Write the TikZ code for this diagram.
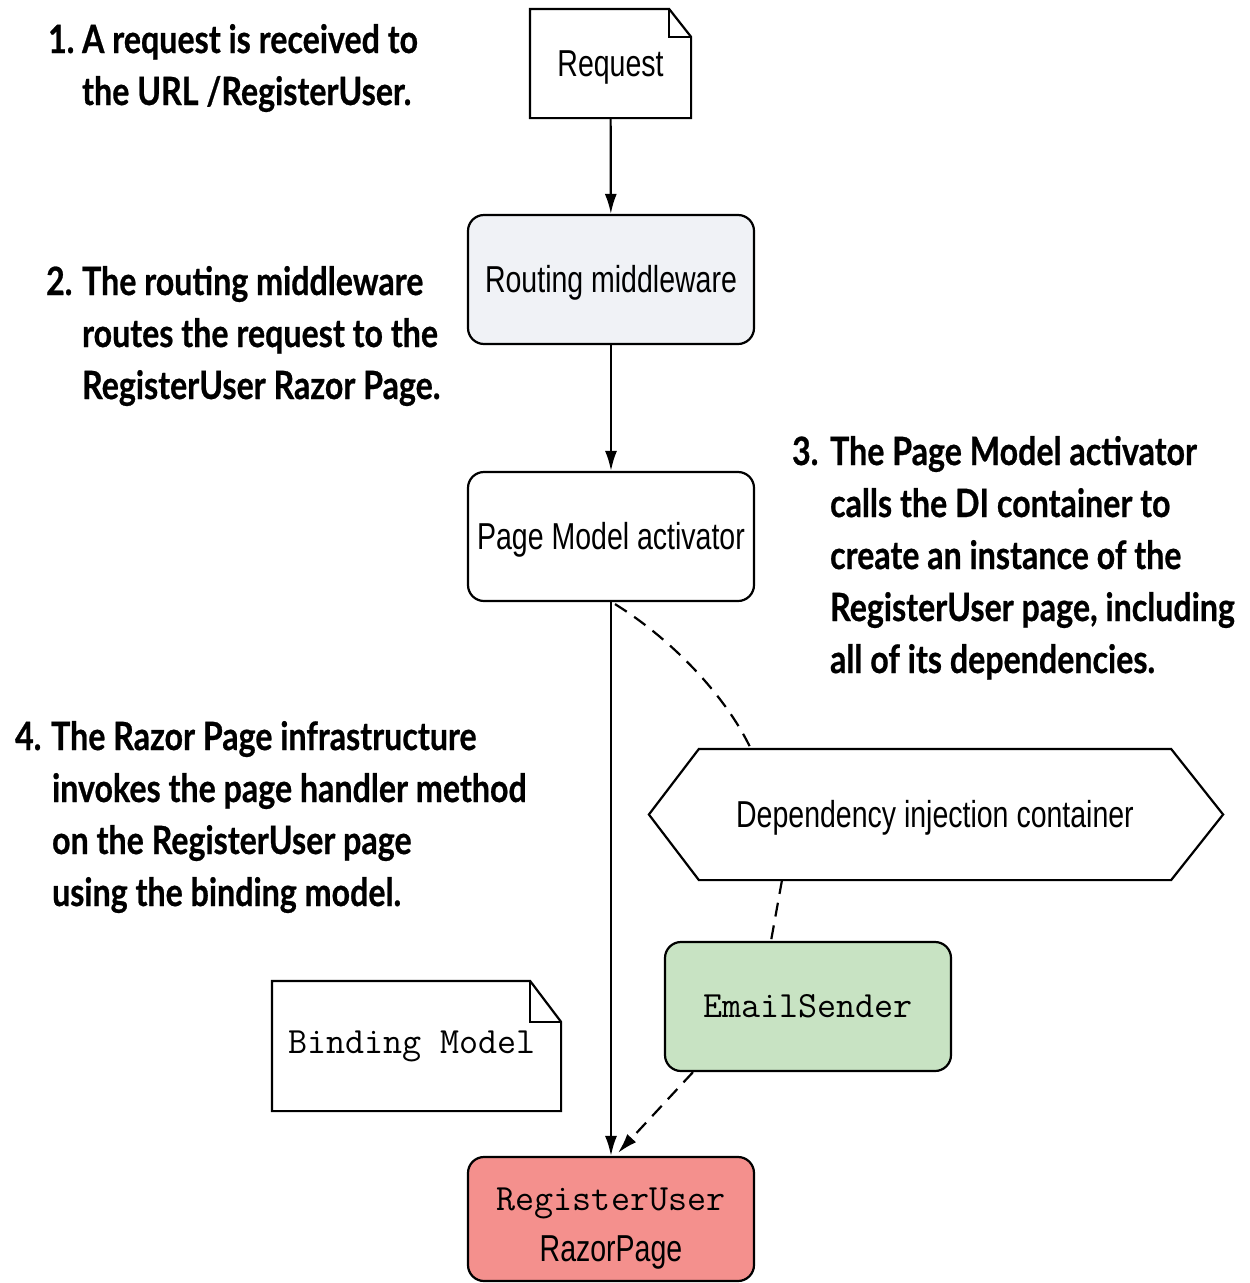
\documentclass[tikz,border=0pt]{standalone}
\usepackage{fontspec}
\usetikzlibrary{arrows.meta,calc}
\newfontfamily\annfont[FakeStretch=0.825,FakeBold=0.6]{Lato}
\newfontfamily\boxsans[FakeStretch=0.76]{Liberation Sans}
\definecolor{routfill}{RGB}{240,242,246}
\definecolor{emailfill}{RGB}{200,227,195}
\definecolor{regfill}{RGB}{244,144,141}
\begin{document}
\begin{tikzpicture}[x=1pt,y=-1pt,line width=2.2pt,
  plain/.style={inner sep=0pt,minimum width=286pt,minimum height=129pt,font=\boxsans\fontsize{37.5}{45}\selectfont},
  ctr/.style={text height=25pt,text depth=0pt},
  box/.style={plain,draw,rounded corners=16pt},
  mono/.style={font=\ttfamily\fontsize{37}{45}\selectfont},
  ann/.style={anchor=base west,inner sep=0pt,font=\annfont\bfseries\fontsize{39}{52}\selectfont},
  arr/.style={-{Latex[length=20pt,width=12pt]}},
  dsh/.style={dash pattern=on 14pt off 9pt}]
\useasboundingbox (0,0) rectangle (1250,1283);

% annotations
\node[ann] (a1n) at (47,53) {1.};
\node[ann] (a1a) at (81,53) {A request is received to};
\node[ann] (a1b) at (81,105) {the URL /RegisterUser.};

\node[ann] (a2n) at (45,295) {2.};
\node[ann] (a2a) at (81,295) {The routing middleware};
\node[ann] (a2b) at (81,347) {routes the request to the};
\node[ann] (a2c) at (81,399) {RegisterUser Razor Page.};

\node[ann] (a3n) at (791,465) {3.};
\node[ann] (a3a) at (829,465) {The Page Model activator};
\node[ann] (a3b) at (829,517) {calls the DI container to};
\node[ann] (a3c) at (829,569) {create an instance of the};
\node[ann] (a3d) at (829,621) {RegisterUser page, including};
\node[ann] (a3e) at (829,673) {all of its dependencies.};

\node[ann] (a4n) at (14,750) {4.};
\node[ann] (a4a) at (50,750) {The Razor Page infrastructure};
\node[ann] (a4b) at (51,802) {invokes the page handler method};
\node[ann] (a4c) at (51,854) {on the RegisterUser page};
\node[ann] (a4d) at (51,906) {using the binding model.};

% request document
\node[plain,ctr,minimum width=159pt,minimum height=107pt] (req) at (610.5,63.5) {Request};
\draw[line join=miter] (req.north west) -- ($(req.north east)+(-22,0)$) -- ($(req.north east)+(0,28)$)
  -- (req.south east) -- (req.south west) -- cycle;
\draw ($(req.north east)+(-22,0)$) -- ($(req.north east)+(-22,28)$) -- ($(req.north east)+(0,28)$);

% boxes
\node[box,ctr,fill=routfill] (rout) at (611,279.5) {Routing middleware};
\node[box,ctr,fill=white] (pma) at (611,536.5) {Page Model activator};

% DI container hexagon
\node[plain,ctr,minimum width=470pt] (di) at (935,814.5) {Dependency injection container};
\draw (di.north west) -- (di.north east) -- ($(di.east)+(52,0)$) -- (di.south east)
  -- (di.south west) -- ($(di.west)+(-50,0)$) -- cycle;

\node[box,fill=emailfill,mono] (email) at (808,1006.5) {EmailSender};

% binding model document
\node[plain,mono,minimum width=287pt,minimum height=128pt] (bind) at (416.5,1046) {Binding Model\hspace*{9pt}};
\draw (bind.north west) -- ($(bind.north east)+(-31,0)$) -- ($(bind.north east)+(0,41)$)
  -- (bind.south east) -- (bind.south west) -- cycle;
\draw ($(bind.north east)+(-31,0)$) -- ($(bind.north east)+(-31,41)$) -- ($(bind.north east)+(0,41)$);

\node[box,fill=regfill,minimum height=124pt,align=center] (reg) at (611,1219)
  {\rule{0pt}{42pt}{\ttfamily\fontsize{37}{51}\selectfont RegisterUser}\\[6pt]RazorPage};

% connectors
\draw[arr] (req) -- (rout);
\draw[arr] (rout) -- (pma);
\draw[arr] (pma) -- (reg);
\draw[dsh] ($(pma.south)+(4,2)$) .. controls (676,642) and (728,700) .. ($(di.north west)+(52,0)$);
\draw[dsh] ($(di.south)+(-153,0)$) -- ($(email.north)+(-37,0)$);
\draw[dsh,arr] ($(email.south)+(-115,0)$) -- ($(reg.north)+(7,-3)$);
\end{tikzpicture}
\end{document}
